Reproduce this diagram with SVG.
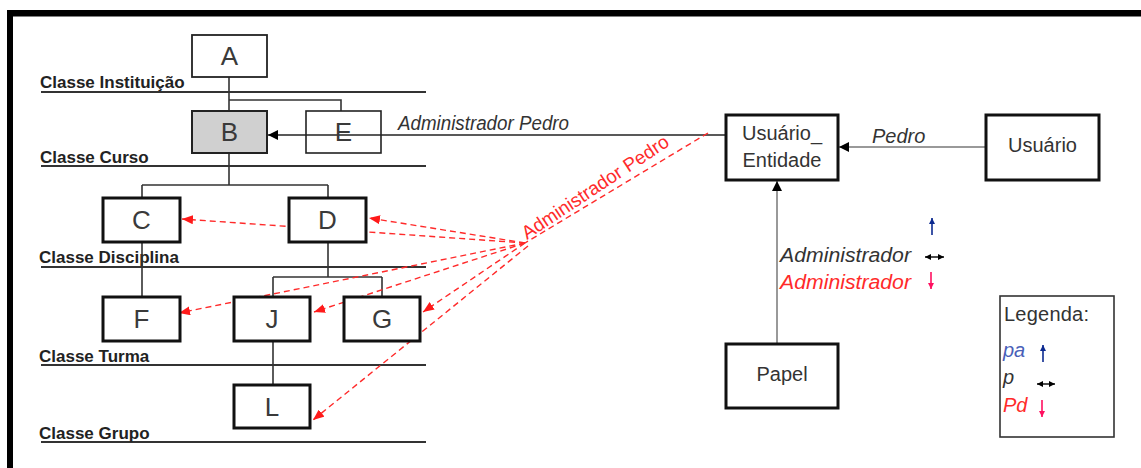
<svg xmlns="http://www.w3.org/2000/svg" width="1141" height="468" viewBox="0 0 1141 468">
<defs>
<style>
.box{fill:#fff;stroke:#111;stroke-width:3}
.thin{fill:#fff;stroke:#222;stroke-width:1.8}
.lbl{font-family:"Liberation Sans",Arial,sans-serif;font-size:26px;fill:#3a3a3a;text-anchor:middle}
.cls{font-family:"Liberation Sans",Arial,sans-serif;font-size:17px;font-weight:bold;fill:#222}
.txt{font-family:"Liberation Sans",Arial,sans-serif;font-size:20px}
.it{font-style:italic}
.dk{fill:#333}
.rd{fill:#ff2a2a}
.bl{fill:#4a5fb8}
.lvl{stroke:#333;stroke-width:2;fill:none}
.tree{stroke:#333;stroke-width:1.6;fill:none}
.gray{stroke:#999;stroke-width:2;fill:none}
.red{stroke:#ff2a2a;stroke-width:1.4;stroke-dasharray:6 4;fill:none}
</style>
<marker id="ab" markerWidth="10" markerHeight="10" refX="10" refY="5" orient="auto" markerUnits="userSpaceOnUse"><path d="M0,0 L10,5 L0,10 z" fill="#000"/></marker>
<marker id="ar" markerWidth="11" markerHeight="9" refX="11" refY="4.5" orient="auto" markerUnits="userSpaceOnUse"><path d="M0,0 L11,4.5 L0,9 z" fill="#ff1a1a"/></marker>
<marker id="sb" markerWidth="6" markerHeight="6" refX="6" refY="3" orient="auto-start-reverse" markerUnits="userSpaceOnUse"><path d="M0,0 L6,3 L0,6 z" fill="#000"/></marker>
<marker id="sblue" markerWidth="6" markerHeight="6" refX="6" refY="3" orient="auto" markerUnits="userSpaceOnUse"><path d="M0,0 L6,3 L0,6 z" fill="#0c2a90"/></marker>
<marker id="spink" markerWidth="6" markerHeight="6" refX="6" refY="3" orient="auto" markerUnits="userSpaceOnUse"><path d="M0,0 L6,3 L0,6 z" fill="#ff1060"/></marker>
</defs>
<rect x="0" y="0" width="1141" height="468" fill="#fff"/>
<rect x="7" y="10" width="1134" height="6.5" fill="#000"/>
<rect x="7" y="10" width="6" height="458" fill="#000"/>

<g id="levels">
<line class="lvl" x1="41" y1="92" x2="426" y2="92"/>
<text class="cls" x="40" y="88">Classe Instituição</text>
<line class="lvl" x1="41" y1="166" x2="426" y2="166"/>
<text class="cls" x="40" y="163">Classe Curso</text>
<line class="lvl" x1="41" y1="267" x2="426" y2="267"/>
<text class="cls" x="39" y="263">Classe Disciplina</text>
<line class="lvl" x1="41" y1="365" x2="426" y2="365"/>
<text class="cls" x="39" y="362">Classe Turma</text>
<line class="lvl" x1="41" y1="442" x2="426" y2="442"/>
<text class="cls" x="39" y="439">Classe Grupo</text>
</g>

<g id="connectors">
<path class="tree" d="M229,77 V111 M229,100 H341 V111"/>
<path class="tree" d="M229,153 V185 M142,185 H328 M142,185 V198 M328,185 V198"/>
<path class="tree" d="M142,242 V297"/>
<path class="tree" d="M328,242 V277 M273,277 H382 M273,277 V297 M382,277 V297"/>
<path class="tree" d="M273,341 V385"/>
<line x1="726" y1="135" x2="268" y2="135" stroke="#222" stroke-width="1.6" marker-end="url(#ab)"/>
<line class="gray" x1="986" y1="147" x2="839" y2="147" marker-end="url(#ab)"/>
<line class="gray" x1="777" y1="344" x2="777" y2="181" marker-end="url(#ab)"/>
<line class="red" x1="708" y1="133" x2="525" y2="243"/>
<line class="red" x1="525" y1="243" x2="182" y2="219" marker-end="url(#ar)"/>
<line class="red" x1="525" y1="243" x2="369" y2="218" marker-end="url(#ar)"/>
<line class="red" x1="525" y1="243" x2="179" y2="313" marker-end="url(#ar)"/>
<line class="red" x1="525" y1="243" x2="314" y2="312" marker-end="url(#ar)"/>
<line class="red" x1="525" y1="243" x2="423" y2="312" marker-end="url(#ar)"/>
<line class="red" x1="528" y1="246" x2="313" y2="420" marker-end="url(#ar)"/>
<text class="txt it dk" x="398" y="130" font-size="19" textLength="171" lengthAdjust="spacingAndGlyphs">Administrador Pedro</text>
<text class="txt it dk" x="872" y="143" font-size="19">Pedro</text>
<text class="rd" transform="translate(527,240) rotate(-33.5)" x="0" y="0" font-family="Liberation Sans, Arial, sans-serif" font-size="19" textLength="172" lengthAdjust="spacingAndGlyphs">Administrador Pedro</text>
<text class="txt it dk" x="780" y="262" textLength="131" lengthAdjust="spacingAndGlyphs">Administrador</text>
<text class="txt it rd" x="780" y="289" textLength="131" lengthAdjust="spacingAndGlyphs">Administrador</text>
<line x1="932" y1="235" x2="932" y2="218" stroke="#0c2a90" stroke-width="1.6" marker-end="url(#sblue)"/>
<line x1="925" y1="257" x2="944" y2="257" stroke="#000" stroke-width="1.4" marker-start="url(#sb)" marker-end="url(#sb)"/>
<line x1="931" y1="272" x2="931" y2="289" stroke="#ff1060" stroke-width="1.6" marker-end="url(#spink)"/>
</g>

<g id="A"><rect class="thin" x="192" y="35" width="75" height="42"/><text class="lbl" x="229.5" y="65">A</text></g>
<g id="B"><rect x="192" y="111" width="75" height="42" fill="#d0d0d0" stroke="#222" stroke-width="2"/><text class="lbl" x="229.5" y="141">B</text></g>
<g id="E"><rect x="306" y="111" width="75" height="42" fill="none" stroke="#222" stroke-width="1.6"/><text class="lbl" x="343.5" y="141">E</text></g>
<g id="C"><rect class="box" x="103" y="198" width="77" height="44"/><text class="lbl" x="141.5" y="229">C</text></g>
<g id="D"><rect class="box" x="289" y="198" width="77" height="44"/><text class="lbl" x="327.5" y="229">D</text></g>
<g id="F"><rect class="box" x="103" y="297" width="77" height="44"/><text class="lbl" x="141.5" y="328">F</text></g>
<g id="J"><rect class="box" x="234" y="297" width="76" height="44"/><text class="lbl" x="272" y="328">J</text></g>
<g id="G"><rect class="box" x="344" y="297" width="76" height="44"/><text class="lbl" x="382" y="328">G</text></g>
<g id="L"><rect class="box" x="234" y="385" width="76" height="43"/><text class="lbl" x="272" y="416">L</text></g>

<g id="UsuarioEntidade"><rect class="box" x="726" y="115" width="112" height="65"/>
<text class="txt dk" x="782" y="140" text-anchor="middle">Usuário_</text>
<text class="txt dk" x="782" y="167" text-anchor="middle">Entidade</text></g>
<g id="Usuario"><rect class="box" x="986" y="115" width="113" height="65"/><text class="txt dk" x="1042.5" y="152" text-anchor="middle">Usuário</text></g>
<g id="Papel"><rect class="box" x="726" y="344" width="112" height="64"/><text class="txt dk" x="782" y="381" text-anchor="middle" font-size="19">Papel</text></g>

<g id="Legenda">
<rect x="1000" y="296" width="114" height="141" fill="#fff" stroke="#333" stroke-width="1.6"/>
<text class="txt dk" x="1004" y="321" textLength="85" lengthAdjust="spacing">Legenda:</text>
<text class="txt it bl" x="1003" y="357">pa</text>
<line x1="1043" y1="362" x2="1043" y2="345" stroke="#0c2a90" stroke-width="1.6" marker-end="url(#sblue)"/>
<text class="txt it dk" x="1003" y="384">p</text>
<line x1="1037" y1="384" x2="1055" y2="384" stroke="#000" stroke-width="1.4" marker-start="url(#sb)" marker-end="url(#sb)"/>
<text class="txt it rd" x="1003" y="412">Pd</text>
<line x1="1042" y1="400" x2="1042" y2="417" stroke="#ff1060" stroke-width="1.6" marker-end="url(#spink)"/>
</g>
</svg>
